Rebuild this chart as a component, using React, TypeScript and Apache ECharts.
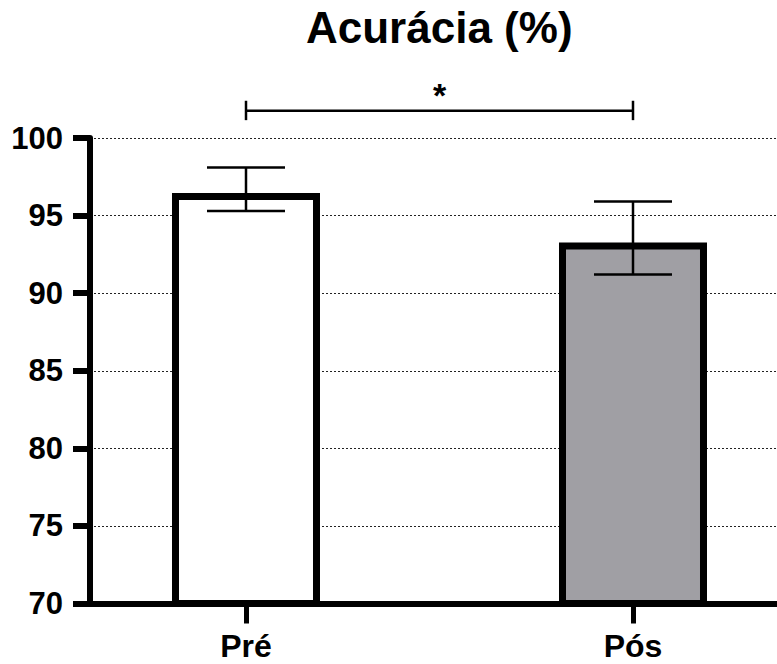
import React, { useEffect, useRef } from "react";
import * as echarts from "echarts";

const categories = ["Pré", "Pós"];
const means = [96.45, 93.27];
const errLow = [95.3, 91.2];
const errHigh = [98.1, 95.9];
const barColors = ["#ffffff", "#a09fa4"];
const yTicks = [70, 75, 80, 85, 90, 95, 100];
const significance = "*";

const FONT = "'Liberation Sans', Arial, Helvetica, sans-serif";

export default function App() {
  const ref = useRef<HTMLDivElement>(null);
  useEffect(() => {
    document.body.style.margin = "0";
    const chart = echarts.init(ref.current!, null, { renderer: "svg" });
    const option: any = {
      animation: false,
      backgroundColor: "#ffffff",
      title: {
        text: "Acurácia (%)",
        left: 306,
        top: 5,
        padding: 0,
        textStyle: { fontFamily: FONT, fontWeight: "bold", fontSize: 44, color: "#000" },
      },
      grid: { left: 90, right: 0, top: 138, bottom: 60.5, containLabel: false },
      xAxis: {
        type: "value",
        min: -0.4031,
        max: 1.3721,
        splitLine: { show: false },
        axisLine: { show: true, onZero: false, lineStyle: { color: "#000", width: 6 } },
        axisTick: { show: true, customValues: [0, 1], length: 20, lineStyle: { color: "#000", width: 5 } },
        axisLabel: {
          show: true,
          customValues: [0, 1],
          margin: 26,
          formatter: (v: number) => categories[Math.round(v)] ?? "",
          fontFamily: FONT,
          fontWeight: "bold",
          fontSize: 32,
          color: "#000",
        },
      },
      yAxis: {
        type: "value",
        min: yTicks[0],
        max: yTicks[yTicks.length - 1],
        interval: 5,
        axisLine: { show: true, onZero: false, lineStyle: { color: "#000", width: 6 } },
        axisTick: { show: true, length: 17, lineStyle: { color: "#000", width: 6 } },
        axisLabel: {
          margin: 27,
          fontFamily: FONT,
          fontWeight: "bold",
          fontSize: 31,
          color: "#000",
        },
        splitLine: { show: true, lineStyle: { color: "#222", width: 1, type: [2, 2] } },
      },
      series: [
        {
          type: "bar",
          barWidth: 148,
          z: 2,
          data: means.map((m, i) => ({
            value: [i, m],
            itemStyle: { color: barColors[i], borderColor: "#000", borderWidth: 7 },
          })),
        },
        {
          type: "custom",
          z: 5,
          data: means.map((_, i) => [i, errLow[i], errHigh[i]]),
          encode: { x: 0, y: [1, 2] },
          renderItem: (params: any, api: any) => {
            const x = api.value(0);
            const lo = api.coord([x, api.value(1)]);
            const hi = api.coord([x, api.value(2)]);
            const hw = 39;
            const st = { stroke: "#000", lineWidth: 2.5 };
            return {
              type: "group",
              children: [
                { type: "line", shape: { x1: hi[0], y1: hi[1], x2: lo[0], y2: lo[1] }, style: st },
                { type: "line", shape: { x1: hi[0] - hw, y1: hi[1], x2: hi[0] + hw, y2: hi[1] }, style: st },
                { type: "line", shape: { x1: lo[0] - hw, y1: lo[1], x2: lo[0] + hw, y2: lo[1] }, style: st },
              ],
            };
          },
        },
        {
          type: "custom",
          z: 5,
          clip: false,
          data: [[0, 1]],
          encode: { x: [0, 1] },
          renderItem: (params: any, api: any) => {
            const a = api.coord([api.value(0), 101.75]);
            const b = api.coord([api.value(1), 101.75]);
            const capTop = api.coord([0, 102.4])[1];
            const capBot = api.coord([0, 101.15])[1];
            const st = { stroke: "#000", lineWidth: 2.5 };
            return {
              type: "group",
              children: [
                { type: "line", shape: { x1: a[0], y1: a[1], x2: b[0], y2: b[1] }, style: st },
                { type: "line", shape: { x1: a[0], y1: capTop, x2: a[0], y2: capBot }, style: st },
                { type: "line", shape: { x1: b[0], y1: capTop, x2: b[0], y2: capBot }, style: st },
                {
                  type: "text",
                  style: {
                    text: significance,
                    x: (a[0] + b[0]) / 2,
                    y: a[1] + 1,
                    align: "center",
                    verticalAlign: "bottom",
                    font: `bold 34px ${FONT}`,
                    fill: "#000",
                  },
                },
              ],
            };
          },
        },
      ],
    };
    chart.setOption(option);
    return () => chart.dispose();
  }, []);
  return <div ref={ref} style={{ width: 777, height: 664 }} />;
}
